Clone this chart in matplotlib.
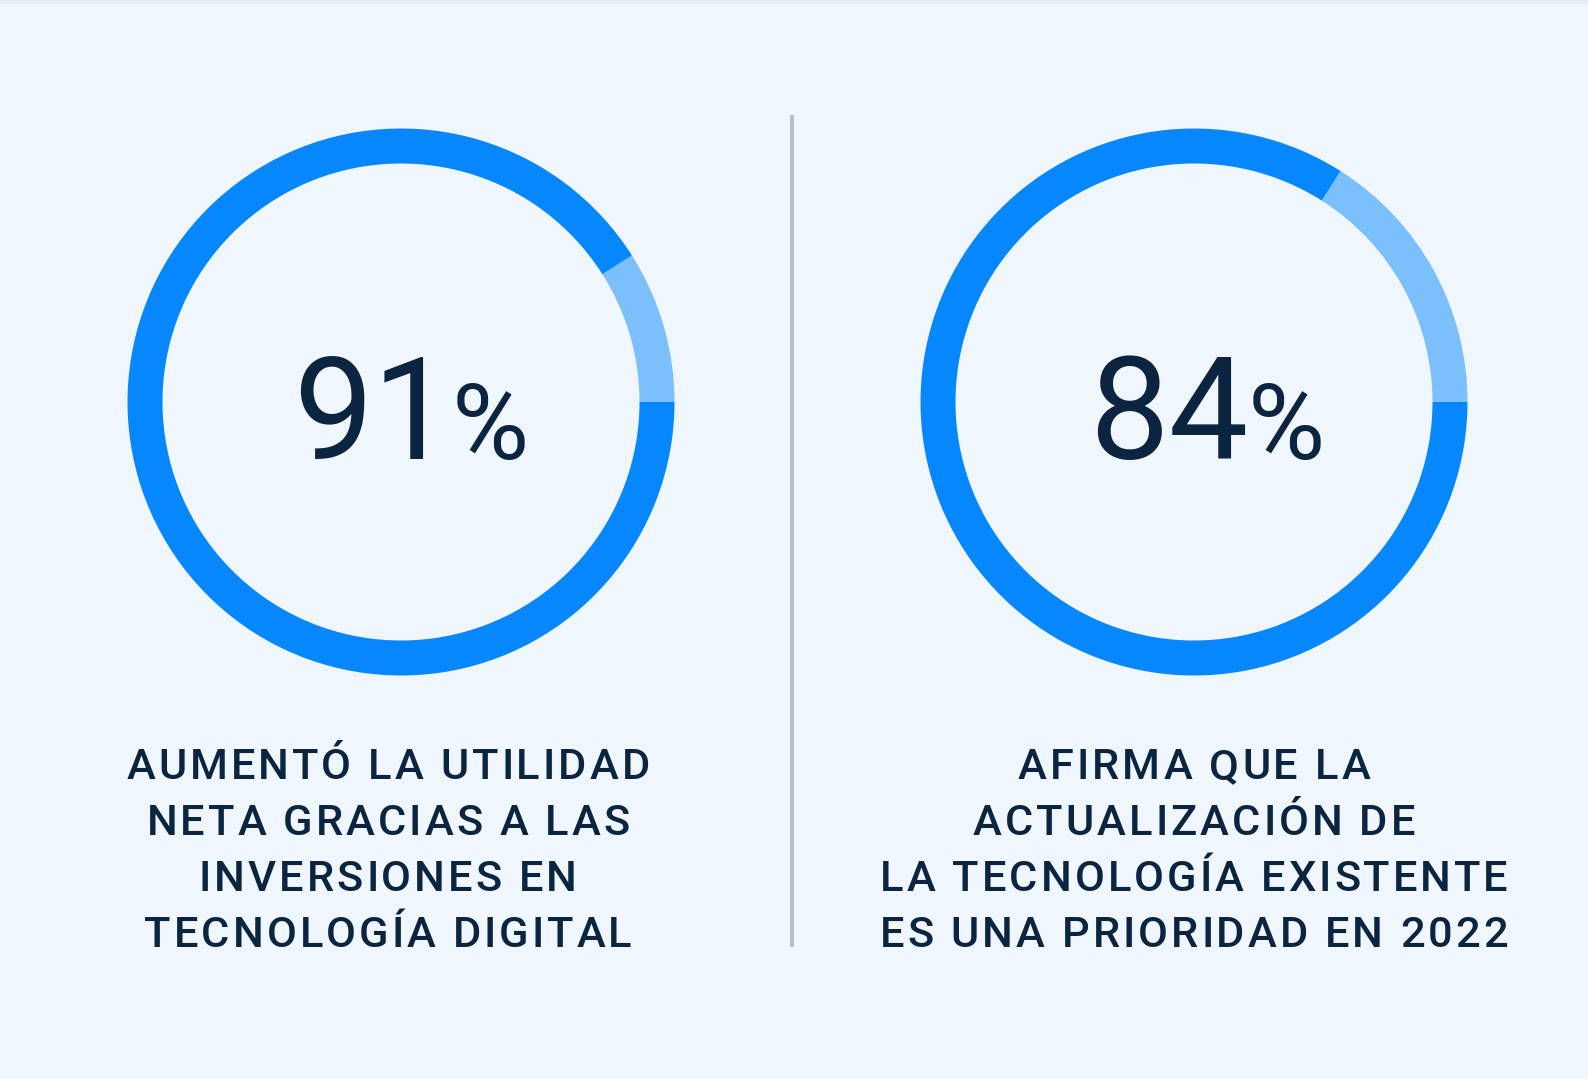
import matplotlib
matplotlib.use("Agg")
import matplotlib.pyplot as plt
from matplotlib import ft2font
from matplotlib.font_manager import FontProperties, findfont
from matplotlib.ft2font import FT2Font

# Datos
valores = [91, 84]
etiquetas = [
    ["AUMENTÓ LA UTILIDAD", "NETA GRACIAS A LAS", "INVERSIONES EN", "TECNOLOGÍA DIGITAL"],
    ["AFIRMA QUE LA", "ACTUALIZACIÓN DE", "LA TECNOLOGÍA EXISTENTE", "ES UNA PRIORIDAD EN 2022"],
]

# Estilo
W, H, DPI = 1588, 1079, 100
fondo = "#EFF6FE"
azul = "#0787FE"
azul_claro = "#7BBFFD"
texto = "#0B2540"
divisor = "#BBBEC6"

centros = [(401, 402), (1194, 402)]   # centro de cada anillo (px)
R, ancho = 273.5, 35
centro_texto = [388, 1194]
desfase_num = [10, 13]
base_num = 459
base_etq, paso_etq = 779, 56

fp_num = FontProperties(family="Roboto", weight="regular")
fp_etq = FontProperties(family="Roboto", weight="medium")
t_num, t_pct, t_etq = 102, 76, 31.2
tracking = 0.07  # em

KERN = getattr(ft2font, "Kerning", None)
KERN = KERN.DEFAULT if KERN is not None else 0


def avances(s, fp, size):
    # avance de cada carácter (px), con kerning respecto al siguiente
    f = FT2Font(findfont(fp))
    f.set_size(size, DPI)
    adv = [f.load_char(ord(c)).linearHoriAdvance / 65536 for c in s]
    for j in range(len(s) - 1):
        a, b = f.get_char_index(ord(s[j])), f.get_char_index(ord(s[j + 1]))
        adv[j] += f.get_kerning(a, b, KERN) / 64
    return adv


fig = plt.figure(figsize=(W / DPI, H / DPI), dpi=DPI)
fig.patch.set_facecolor(fondo)
ax = fig.add_axes([0, 0, 1, 1])
ax.set_facecolor(fondo)

# franja superior
ax.add_patch(plt.Rectangle((0, H - 4), W, 4, color="#E6EDF5", lw=0))

for i, v in enumerate(valores):
    cx, cy = centros[i]
    ax.pie([100 - v, v], startangle=0, counterclock=True,
           colors=[azul_claro, azul], radius=R, center=(cx, H - cy),
           wedgeprops=dict(width=ancho, linewidth=0), frame=True)

    # número grande + %
    num = str(v)
    a_num = sum(avances(num, fp_num, t_num))
    a_pct = avances("%", fp_num, t_pct)[0]
    x0 = cx + desfase_num[i] - (a_num + a_pct) / 2
    ax.text(x0, H - base_num, num, fontproperties=fp_num, fontsize=t_num,
            color=texto, ha="left", va="baseline")
    ax.text(x0 + a_num, H - base_num, "%", fontproperties=fp_num, fontsize=t_pct,
            color=texto, ha="left", va="baseline")

    # etiqueta con espaciado entre letras
    track = tracking * t_etq * DPI / 72
    for k, linea in enumerate(etiquetas[i]):
        adv = avances(linea, fp_etq, t_etq)
        total = sum(adv) + track * (len(linea) - 1)
        x = centro_texto[i] - total / 2
        y = H - (base_etq + k * paso_etq)
        for c, a in zip(linea, adv):
            if c != " ":
                ax.text(x, y, c, fontproperties=fp_etq, fontsize=t_etq,
                        color=texto, ha="left", va="baseline")
            x += a + track

# línea divisoria
ax.vlines(792, H - 947, H - 115, color=divisor, linewidth=4 * 72 / DPI)

ax.set_xlim(0, W)
ax.set_ylim(0, H)
ax.set_aspect("equal")
ax.axis("off")

fig.savefig("out.png", dpi=DPI, facecolor=fondo)
